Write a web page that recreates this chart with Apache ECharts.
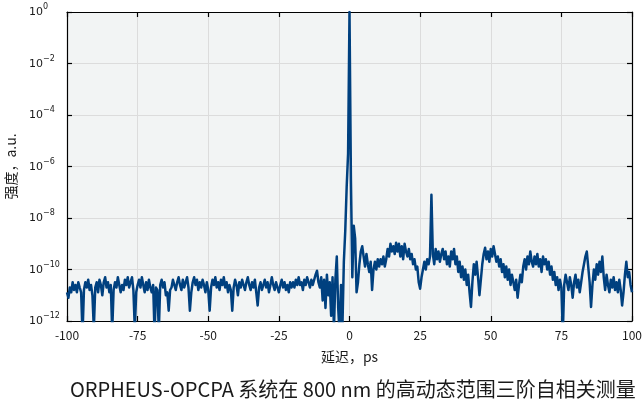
<!DOCTYPE html>
<html>
<head>
<meta charset="utf-8">
<script src="https://cdn.jsdelivr.net/npm/echarts@6/dist/echarts.min.js"></script>
<style>html,body{margin:0;padding:0;background:#fff}#c{width:644px;height:406px}</style>
</head>
<body>
<div id="c"></div>
<script>
// Delay axis sampling (ps): first sample and spacing
const delayStartPs = -100;
const delayStepPs = 0.5;
// Intensity (a.u.), one value per 0.5 ps from -100 to 100 ps
const intensity = [
  // -100 .. -90.5
  1.3e-11,8e-12,2e-11,1.3e-11,3.2e-11,1.6e-11,2.5e-11,1.3e-11,3.2e-11,2e-11,1.3e-11,3e-13,1.6e-11,3.2e-11,2e-11,4e-11,1.6e-11,2.5e-11,1e-11,5e-13,
  // -90 .. -80.5
  2e-11,3.2e-11,1.3e-11,4e-11,2.5e-11,1e-11,3.2e-11,5e-11,2e-11,3.2e-11,1.3e-11,2.5e-11,4e-13,1.6e-11,3.2e-11,2e-11,5e-11,2.5e-11,1.3e-11,2.5e-11,
  // -80 .. -70.5
  1.6e-11,4e-11,2.5e-11,5e-11,2e-11,3.2e-11,5e-11,1.6e-11,5e-13,1.3e-11,2.5e-11,4e-11,2e-11,5e-11,2.5e-11,1.3e-11,3.2e-11,1.6e-11,4e-11,2e-11,
  // -70 .. -60.5
  1.3e-11,2.5e-11,3e-13,2e-11,1.6e-11,4e-13,2.5e-11,4e-11,2e-11,3.2e-11,1e-11,1.3e-11,2.5e-12,1.6e-11,2e-11,4e-11,2.5e-11,1.6e-11,3.2e-11,5e-11,
  // -60 .. -50.5
  2.5e-11,1.6e-11,4e-11,2e-11,3.2e-11,5e-11,2e-11,2.5e-12,1.3e-11,3.2e-11,5e-11,2.5e-11,4e-11,1.6e-11,3.2e-11,2e-11,4e-11,2.5e-11,1.3e-11,3.2e-11,
  // -50 .. -40.5
  1.6e-11,2.5e-12,2e-11,4e-11,2.5e-11,5e-11,2e-11,3.2e-11,1.6e-11,4e-11,2.5e-11,5e-11,2e-11,3.2e-11,1.3e-11,2.5e-11,1.6e-11,2.5e-12,2e-11,4e-11,
  // -40 .. -30.5
  2.5e-11,1e-11,3.2e-11,2e-11,4e-11,2.5e-11,1.6e-11,3.2e-11,5e-11,2.5e-11,1.6e-11,3.2e-11,2e-11,4e-11,1.3e-11,4e-12,2e-11,3.2e-11,1.6e-11,2.5e-11,
  // -30 .. -20.5
  4e-11,2e-11,3.2e-11,1.3e-11,2.5e-11,5e-11,2.5e-11,1.6e-11,3.2e-11,2e-11,1.3e-11,2.5e-11,4e-11,2e-11,3.2e-11,1.6e-11,2.5e-11,1.3e-11,3.2e-11,2e-11,
  // -20 .. -10.5
  3.2e-11,2e-11,4e-11,2.5e-11,5e-11,2.5e-11,3.2e-11,1.6e-11,4e-11,2.5e-11,5e-11,3.2e-11,2e-11,4e-11,2.5e-11,4e-11,6.3e-11,9e-11,3.2e-11,2e-11,
  // -10 .. -0.5
  5e-11,6.3e-12,4e-11,3.2e-12,6.3e-11,1e-11,3.2e-11,1.6e-12,5e-11,5e-13,4e-11,3.2e-10,3.2e-12,3e-13,2.5e-11,6.3e-13,2e-10,3.2e-9,1.6e-7,3.2e-6,
  // 0 .. 5.5
  1,3.2e-7,5e-11,5e-9,1.6e-9,1.3e-11,3.2e-11,1.6e-10,5e-10,8e-10,3.2e-10,1.3e-10,
  // 6 .. 15.5
  4e-10,1.6e-10,8e-11,2e-10,1.6e-11,1e-10,2e-10,1e-10,2.5e-10,1.3e-10,2.5e-10,1.6e-10,3.2e-10,1.3e-10,2.5e-10,6.3e-10,3.2e-10,1e-9,5e-10,8e-10,
  // 16 .. 25.5
  4e-10,1.1e-9,5e-10,1e-9,3.2e-10,8e-10,2.5e-10,1e-9,5e-10,3.2e-10,6.3e-10,2.5e-10,4e-10,1.6e-10,2.5e-10,1e-10,1.3e-10,3.2e-11,1.8e-11,5e-11,
  // 26 .. 35.5
  1e-10,2e-10,1e-10,2.5e-10,1.6e-10,3.2e-10,8e-8,4e-10,1.6e-10,6.3e-10,2.5e-10,5e-10,2e-10,4e-10,6.3e-10,2.5e-10,5e-10,1.6e-10,3.2e-10,1.3e-10,
  // 36 .. 45.5
  5e-10,2.5e-10,6.3e-10,1.6e-10,3.2e-10,8e-11,2e-10,5e-11,1.3e-10,4e-11,1e-10,2.5e-11,6.3e-11,1.3e-11,3.5e-12,3.2e-11,1.6e-10,6.3e-11,2e-10,5e-11,
  // 46 .. 55.5
  1e-11,4e-11,1.6e-10,4e-10,7e-10,2.5e-10,5e-10,2e-10,6.3e-10,3.2e-10,8e-10,4e-10,2e-10,3.2e-10,1.3e-10,2.5e-10,8e-11,1.6e-10,5e-11,1.3e-10,
  // 56 .. 65.5
  4e-11,1e-10,2.5e-11,6.3e-11,3.2e-11,1.6e-11,4e-11,8e-12,2.5e-11,6.3e-11,3.2e-11,1.3e-10,2.5e-10,1e-10,3.2e-10,1.6e-10,5e-10,2e-10,1.3e-10,3.2e-10,
  // 66 .. 75.5
  1.6e-10,4e-10,1.3e-10,2.5e-10,8e-11,3.2e-10,1.6e-10,2.5e-10,1e-10,2e-10,6.3e-11,1.3e-10,4e-11,8e-11,2.5e-11,5e-11,1.6e-11,4e-11,2e-11,3e-13,
  // 76 .. 85.5
  2.5e-11,6.3e-11,3.2e-11,1.6e-11,5e-11,2.5e-11,8e-12,3.2e-11,6.3e-11,2e-11,4e-11,1.3e-11,3.2e-11,8e-11,1.6e-10,3.2e-10,5e-10,1.3e-10,3.2e-11,3.5e-12,
  // 86 .. 95.5
  2.5e-11,1e-10,4e-11,1.6e-10,6.3e-11,2e-10,8e-11,3.2e-10,5e-11,1.6e-11,6.3e-11,2.5e-11,1.3e-11,4e-11,2e-11,5e-11,1.6e-11,3.2e-11,1.3e-11,4e-11,
  // 96 .. 100
  1.6e-11,4e-12,1.3e-11,6.3e-11,2e-10,5e-11,8e-11,2.5e-11,1.3e-11
];
const xTicks = [-100, -75, -50, -25, 0, 25, 50, 75, 100];
const titleText = 'ORPHEUS-OPCPA 系统在 800 nm 的高动态范围三阶自相关测量';
const xName = '延迟，ps';
const yName = '强度，a.u.';

const seriesData = intensity.map((v, i) => [delayStartPs + i * delayStepPs, v]);

const chart = echarts.init(document.getElementById('c'), null, {renderer: 'canvas'});
const cjk = 'Noto Sans CJK SC';
const txt = '#1a1a1a';
const frame = {show: true, onZero: false, lineStyle: {color: '#000', width: 1.2}};
const tick = {show: true, inside: true, length: 5, lineStyle: {color: '#000', width: 1.2}};
const grid = {show: true, lineStyle: {color: '#dcdcdc', width: 1}};
function supLabel(v) {
  const e = Math.round(Math.log10(v));
  const s = e < 0 ? '\u2212' + Math.abs(e) : String(e);
  return '{b|10}{s|' + s + '}';
}
chart.setOption({
  animation: false,
  backgroundColor: '#fff',
  title: {
    text: titleText, left: 65, top: 374,
    textStyle: {fontSize: 20, fontWeight: 'normal', fontFamily: cjk, color: txt}
  },
  grid: {left: 67, right: 12, top: 12, bottom: 85, show: true, backgroundColor: '#f2f4f4', borderWidth: 0,
         containLabel: false, outerBoundsMode: 'none'},
  xAxis: [{
    type: 'value', min: xTicks[0], max: xTicks[xTicks.length - 1], interval: 25, position: 'bottom',
    axisLine: frame, axisTick: tick, splitLine: grid,
    axisLabel: {fontSize: 12, color: txt, margin: 8, fontFamily: cjk},
    name: xName, nameLocation: 'middle', nameGap: 29,
    nameTextStyle: {fontSize: 14, color: txt, fontFamily: cjk}
  }, {
    type: 'value', min: xTicks[0], max: xTicks[xTicks.length - 1], interval: 25, position: 'top',
    axisLine: frame, axisTick: tick, splitLine: {show: false}, axisLabel: {show: false}
  }],
  yAxis: [{
    type: 'log', logBase: 10, min: 1e-12, max: 1, interval: 2, position: 'left',
    axisLine: frame, axisTick: tick, splitLine: grid,
    axisLabel: {
      align: 'left', margin: 38, formatter: supLabel,
      rich: {
        b: {fontSize: 11, fontFamily: 'DejaVu Sans', color: txt, lineHeight: 12, verticalAlign: 'bottom'},
        s: {fontSize: 8, fontFamily: 'DejaVu Sans', color: txt, lineHeight: 8, padding: [0, 0, 7, 0], verticalAlign: 'bottom'}
      }
    },
    name: yName, nameLocation: 'middle', nameGap: 46,
    nameTextStyle: {fontSize: 14, color: txt, fontFamily: cjk}
  }, {
    type: 'log', logBase: 10, min: 1e-12, max: 1, interval: 2, position: 'right',
    axisLine: frame, axisTick: tick, splitLine: {show: false}, axisLabel: {show: false}
  }],
  series: [{
    type: 'line', xAxisIndex: 0, yAxisIndex: 0, data: seriesData,
    showSymbol: false, symbol: 'none', clip: true, sampling: null,
    lineStyle: {color: '#00407f', width: 2.5, join: 'round'}
  }]
});
</script>
</body>
</html>
